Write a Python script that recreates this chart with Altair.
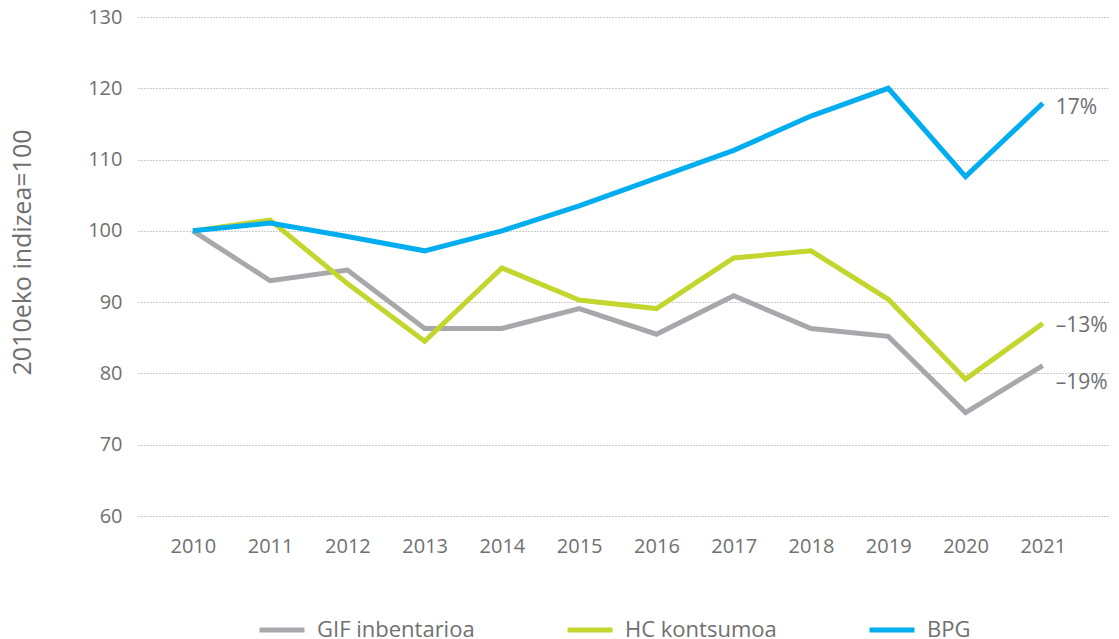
import altair as alt
import pandas as pd

years = list(range(2010, 2022))
series_names = ["GIF inbentarioa", "HC kontsumoa", "BPG"]
gif = [100, 93.0, 94.5, 86.3, 86.3, 89.1, 85.5, 90.9, 86.3, 85.2, 74.5, 81.1]
hc = [100, 101.5, 92.6, 84.5, 94.8, 90.3, 89.1, 96.2, 97.2, 90.4, 79.2, 87.0]
bpg = [100, 101.1, 99.2, 97.2, 100.0, 103.5, 107.4, 111.3, 116.1, 120.0, 107.6, 117.9]
colors = ["#a7a8ac", "#c2d62e", "#00aeef"]
end_labels = ["–19%", "–13%", "17%"]
y_ticks = [60, 70, 80, 90, 100, 110, 120, 130]

rows = []
for name, vals in zip(series_names, [gif, hc, bpg]):
    for yr, v in zip(years, vals):
        rows.append({"year": yr, "value": v, "series": name})
df = pd.DataFrame(rows)

lab_df = pd.DataFrame({
    "year": [years[-1]] * 3,
    "value": [gif[-1], hc[-1], bpg[-1]],
    "series": series_names,
    "label": end_labels,
})

FONT = "Open Sans"
TXT = "#707070"
LAB = "#6d6e71"

x = alt.X("year:Q",
          scale=alt.Scale(domain=[2009.29, 2021.87], nice=False, zero=False),
          axis=alt.Axis(values=years, format="d", title=None, grid=False, domain=False,
                        ticks=False, labelPadding=20, labelFontSize=20, labelColor=TXT,
                        labelFont=FONT))
y = alt.Y("value:Q",
          scale=alt.Scale(domain=[60, 130], nice=False, zero=False),
          axis=alt.Axis(values=y_ticks, title="2010eko indizea=100", domain=False, ticks=False,
                        labelPadding=16, labelFontSize=20, labelColor=TXT, labelFont=FONT,
                        gridColor="#999999", gridDash=[1, 2], gridWidth=1,
                        titleFontSize=25, titleFont=FONT, titleColor=TXT, titleFontWeight="normal",
                        titleX=-116, titleY=235, titleAngle=-90, titleAlign="center",
                        titleBaseline="middle"))

color = alt.Color("series:N",
                  scale=alt.Scale(domain=series_names, range=colors),
                  legend=alt.Legend(title=None, orient="none", legendX=119, legendY=588,
                                    direction="horizontal", symbolType="stroke",
                                    symbolSize=2025, symbolStrokeWidth=5,
                                    labelFontSize=22, labelFont=FONT, labelColor=TXT,
                                    columnPadding=82, labelOffset=10))

lines = alt.Chart(df).mark_line(strokeWidth=5, strokeJoin="miter").encode(
    x=x, y=y, color=color, order=alt.Order("year:Q"),
    detail="series:N"
)

def end_text(i, dy):
    return alt.Chart(lab_df.iloc[[i]]).mark_text(
        align="left", baseline="middle", dx=13, dy=dy, fontSize=21, font=FONT,
        color=LAB, fontWeight=500
    ).encode(x="year:Q", y="value:Q", text="label:N")

chart = alt.layer(lines, end_text(0, 17), end_text(1, 2), end_text(2, 5)).properties(
    width=972, height=499,
    autosize=alt.AutoSizeParams(type="none"),
    padding={"left": 130, "top": 9, "right": 0, "bottom": 121},
).configure_view(stroke=None)

chart.save("out.html", embed_options={"renderer": "svg", "actions": False})
